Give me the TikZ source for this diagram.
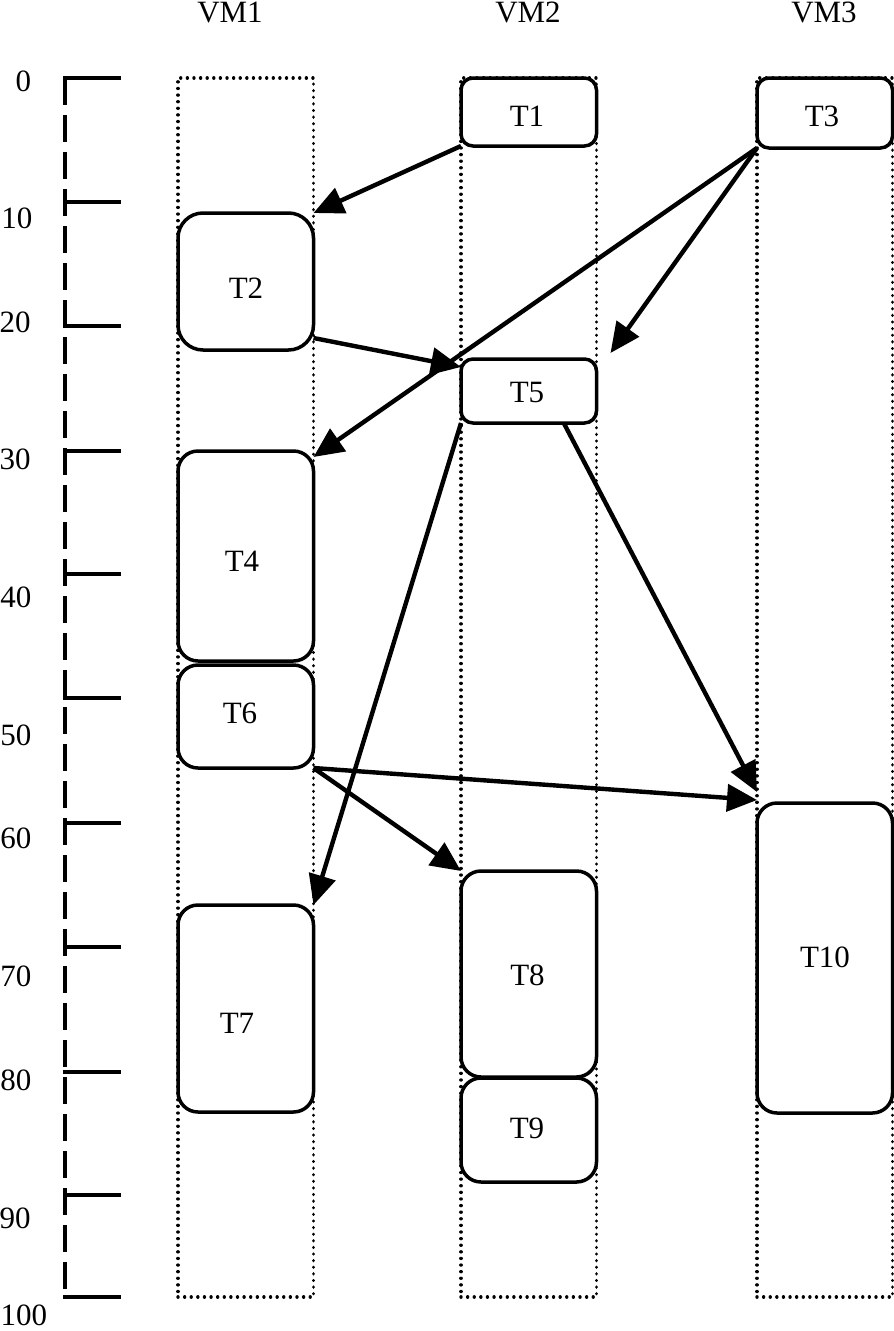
\documentclass[tikz,border=0pt]{standalone}
\usepackage{fontspec}
\setmainfont{Liberation Serif}
\usetikzlibrary{arrows.meta,calc}
\begin{document}
\begin{tikzpicture}[x=1pt,y=-1pt,
  every node/.style={font=\fontsize{31}{37}\selectfont, inner sep=0pt, outer sep=0pt},
  vmcol/.style={draw, line width=3.4pt, dash pattern=on 0.01pt off 6.6pt, line cap=round, minimum width=135.5pt, minimum height=1219pt, anchor=north west},
  task/.style={draw, line width=3.5pt, minimum width=135.5pt, anchor=north west},
  dep/.style={line width=4.4pt, -{Triangle[length=30pt,width=27pt]}},
  tickline/.style={line width=3.8pt},
  axisline/.style={line width=3.8pt, dash pattern=on 27pt off 10pt},
]
\useasboundingbox (0,0) rectangle (894,1331);

% VM headers
\node (VM1) at (230,12) {VM1};
\node (VM2) at (528,12) {VM2};
\node (VM3) at (824,12) {VM3};

% axis
\draw[axisline] (65,78) -- (65,1297);
\foreach \y in {78,202,326,451,574,698,823,947,1072,1195,1297}
  \draw[tickline] (63.1,\y) -- (121,\y);
\node (a0) at (23.5,81) {0};
\node (a10) at (17,218) {10};
\node (a20) at (15,322) {20};
\node (a30) at (15,459) {30};
\node (a40) at (16,597) {40};
\node (a50) at (16,735) {50};
\node (a60) at (16,838) {60};
\node (a70) at (16,976) {70};
\node (a80) at (16,1080) {80};
\node (a90) at (15,1218) {90};
\node (a100) at (24,1315) {100};

% VM columns
\node[vmcol] (C1) at (178,78) {};
\node[vmcol] (C2) at (461,78) {};
\node[vmcol] (C3) at (757,78) {};

% tasks
\node[task, rounded corners=12pt, minimum height=68pt] (T1) at (461,78) {};
\node[task, rounded corners=12pt, minimum height=70pt] (T3) at (757,78) {};
\node[task, rounded corners=25pt, minimum height=137pt] (T2) at (178,213) {};
\node[task, rounded corners=12pt, minimum height=64pt] (T5) at (461,359) {};
\node[task, rounded corners=20pt, minimum height=210pt] (T4) at (178,451) {};
\node[task, rounded corners=20pt, minimum height=103pt] (T6) at (178,665) {};
\node[task, rounded corners=20pt, minimum height=207pt] (T7) at (178,905) {};
\node[task, rounded corners=20pt, minimum height=206pt] (T8) at (461,871) {};
\node[task, rounded corners=20pt, minimum height=104pt] (T9) at (461,1078) {};
\node[task, rounded corners=20pt, minimum height=310pt] (T10) at (757,803) {};

% task labels
\node (T1l) at (527,116) {T1};
\node (T3l) at (822,116) {T3};
\node (T2l) at (246,288) {T2};
\node (T5l) at (527,392) {T5};
\node (T4l) at (242,561) {T4};
\node (T6l) at (240,713) {T6};
\node (T7l) at (237,1023) {T7};
\node (T8l) at (527.5,975) {T8};
\node (T9l) at (527,1128) {T9};
\node (T10l) at (825,957) {T10};

% dependencies
\draw[dep] (T1.south west) -- (T2.north east);
\draw[dep] (T3.south west) -- ($(T5.north east)+(14,-6)$);
\draw[dep] (T3.south west) -- ($(T4.north east)+(0,6)$);
\draw[dep] ($(T2.south east)+(0,-12)$) -- ($(T5.north west)+(0,8)$);
\draw[dep] (T5.south west) -- (T7.north east);
\draw[dep] ($(T5.south)+(35,0)$) -- ($(T10.north west)+(0,-11)$);
\draw[dep] (T6.south east) -- ($(T10.north west)+(0,-3)$);
\draw[dep] (T6.south east) -- (T8.north west);
\end{tikzpicture}
\end{document}
